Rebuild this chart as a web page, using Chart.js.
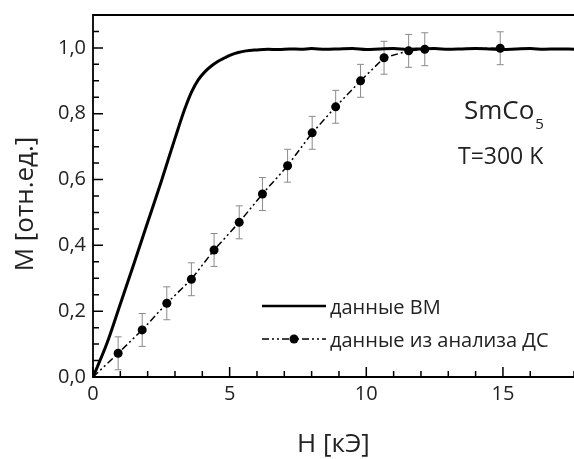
<!DOCTYPE html>
<html>
<head>
<meta charset="utf-8">
<script src="https://cdn.jsdelivr.net/npm/chart.js@4.4.1/dist/chart.umd.min.js"></script>
<style>
  html, body { margin: 0; padding: 0; background: #fff; }
  #wrap { width: 574px; height: 459px; position: relative; }
</style>
</head>
<body>
<div id="wrap"><canvas id="myChart"></canvas></div>
<script>
// VM data (solid curve)
const fieldVM = [0, 0.5, 1.0, 1.5, 2.0, 2.5, 3.0, 3.36, 3.6, 3.85, 4.1, 4.33, 4.55, 4.82, 5.05, 5.31, 5.6, 6.0, 6.4, 6.8, 7.2, 7.6, 8.0, 8.5, 9.0, 9.5, 10.0, 10.5, 11.0, 11.5, 12.0, 12.5, 13.0, 13.5, 14.0, 14.5, 15.0, 15.5, 16.0, 16.5, 17.0, 17.6];
const magVM = [0, 0.1, 0.222, 0.345, 0.47, 0.595, 0.725, 0.815, 0.865, 0.903, 0.928, 0.945, 0.958, 0.97, 0.979, 0.986, 0.991, 0.994, 0.996, 0.995, 0.997, 0.996, 0.998, 0.996, 0.997, 0.998, 0.995, 0.997, 0.998, 0.996, 0.997, 0.998, 0.996, 0.997, 0.998, 0.997, 0.995, 0.997, 0.998, 0.996, 0.997, 0.996];

// DS analysis data (points with error bars)
const fieldDS = [0, 0.92, 1.8, 2.7, 3.6, 4.43, 5.35, 6.2, 7.12, 8.02, 8.88, 9.79, 10.65, 11.55, 12.14, 14.9];
const magDS = [0, 0.072, 0.143, 0.224, 0.297, 0.386, 0.47, 0.556, 0.642, 0.742, 0.821, 0.90, 0.97, 0.991, 0.996, 0.999];
const errDS = [null, 0.05, 0.05, 0.05, 0.05, 0.05, 0.05, 0.05, 0.05, 0.05, 0.05, 0.05, 0.05, 0.05, 0.05, 0.05];

// axis ticks
const xMajorTicks = [0, 5, 10, 15];
const yMajorTicks = [0, 0.2, 0.4, 0.6, 0.8, 1.0];

const FONT = '"Open Sans", "DejaVu Sans", sans-serif';

function isMajor(list, v) {
    return list.some(t => Math.abs(t - v) < 1e-6);
}

// error bars, frame, inward ticks, titles, legend, labels
const decorPlugin = {
    id: 'decor',
    beforeDatasetsDraw(chart) {
        const ctx = chart.ctx;
        const xs = chart.scales.x, ys = chart.scales.y;
        ctx.save();
        ctx.strokeStyle = '#8a8a8a';
        ctx.lineWidth = 1;
        fieldDS.forEach((h, i) => {
            if (errDS[i] == null) return;
            const px = xs.getPixelForValue(h);
            const y1 = ys.getPixelForValue(magDS[i] + errDS[i]);
            const y2 = ys.getPixelForValue(magDS[i] - errDS[i]);
            ctx.beginPath();
            ctx.moveTo(px, y1); ctx.lineTo(px, y2);
            ctx.moveTo(px - 3.5, y1); ctx.lineTo(px + 3.5, y1);
            ctx.moveTo(px - 3.5, y2); ctx.lineTo(px + 3.5, y2);
            ctx.stroke();
        });
        ctx.restore();
    },
    afterDraw(chart) {
        const ctx = chart.ctx;
        const a = chart.chartArea;
        const xs = chart.scales.x, ys = chart.scales.y;
        ctx.save();
        // frame
        ctx.strokeStyle = '#000';
        ctx.lineWidth = 1.8;
        ctx.beginPath();
        ctx.moveTo(a.right, a.top); ctx.lineTo(a.left, a.top);
        ctx.lineTo(a.left, a.bottom); ctx.lineTo(a.right, a.bottom);
        ctx.stroke();
        // inward ticks
        ctx.lineWidth = 1.5;
        ctx.beginPath();
        xs.ticks.forEach((t, i) => {
            const px = xs.getPixelForTick(i);
            const len = isMajor(xMajorTicks, t.value) ? 10 : 6;
            ctx.moveTo(px, a.bottom); ctx.lineTo(px, a.bottom - len);
        });
        ys.ticks.forEach((t, i) => {
            const py = ys.getPixelForTick(i);
            const len = isMajor(yMajorTicks, t.value) ? 10 : 6;
            ctx.moveTo(a.left, py); ctx.lineTo(a.left + len, py);
        });
        ctx.stroke();

        ctx.fillStyle = '#222';
        // axis titles
        ctx.font = '26px ' + FONT;
        ctx.textAlign = 'center';
        ctx.textBaseline = 'middle';
        ctx.fillText('H [кЭ]', (a.left + a.right) / 2, 445);
        ctx.save();
        ctx.translate(26, 204);
        ctx.rotate(-Math.PI / 2);
        ctx.fillText('M [отн.ед.]', 0, 0);
        ctx.restore();

        // sample labels
        ctx.textAlign = 'left';
        ctx.textBaseline = 'alphabetic';
        ctx.font = '26px ' + FONT;
        ctx.fillText('SmCo', 464, 119);
        const w = ctx.measureText('SmCo').width;
        ctx.font = '15px ' + FONT;
        ctx.fillText('5', 464 + w + 1, 129);
        ctx.font = '23px ' + FONT;
        ctx.fillText('T=300 K', 458, 164);

        // legend
        ctx.strokeStyle = '#000';
        ctx.lineWidth = 2.5;
        ctx.beginPath();
        ctx.moveTo(262, 306); ctx.lineTo(326, 306);
        ctx.stroke();
        ctx.lineWidth = 1.5;
        ctx.setLineDash([7, 3, 2, 3, 2, 3]);
        ctx.beginPath();
        ctx.moveTo(262, 339); ctx.lineTo(326, 339);
        ctx.stroke();
        ctx.setLineDash([]);
        ctx.fillStyle = '#000';
        ctx.beginPath();
        ctx.arc(294, 339, 4.5, 0, Math.PI * 2);
        ctx.fill();
        ctx.fillStyle = '#222';
        ctx.font = '20px ' + FONT;
        ctx.textBaseline = 'middle';
        ctx.fillText('данные ВМ', 330, 308);
        ctx.fillText('данные из анализа ДС', 330, 341);
        ctx.restore();
    }
};

var ctx = document.getElementById('myChart').getContext('2d');
var myChart = new Chart(ctx, {
    type: 'scatter',
    data: {
        datasets: [{
            label: 'данные ВМ',
            data: fieldVM.map((h, i) => ({ x: h, y: magVM[i] })),
            showLine: true,
            borderColor: '#000',
            borderWidth: 3,
            pointRadius: 0,
            cubicInterpolationMode: 'monotone',
            order: 2
        }, {
            label: 'данные из анализа ДС',
            data: fieldDS.map((h, i) => ({ x: h, y: magDS[i] })),
            showLine: true,
            borderColor: '#000',
            borderWidth: 1.5,
            borderDash: [7, 3, 2, 3, 2, 3],
            backgroundColor: '#000',
            pointBackgroundColor: '#000',
            pointBorderWidth: 0,
            pointRadius: fieldDS.map((h, i) => i === 0 ? 0 : 4.5),
            order: 1
        }]
    },
    options: {
        responsive: true,
        maintainAspectRatio: false,
        animation: false,
        layout: { autoPadding: false, padding: { top: 15, right: 0, left: 0, bottom: 0 } },
        plugins: {
            legend: { display: false },
            tooltip: { enabled: false }
        },
        scales: {
            x: {
                type: 'linear',
                min: 0,
                max: 17.6,
                afterFit(scale) {
                    scale.height = 82;
                    scale.paddingLeft = 0;
                    scale.paddingRight = 0;
                },
                grid: { display: false, drawTicks: false },
                border: { display: false },
                ticks: {
                    stepSize: 1,
                    autoSkip: false,
                    maxRotation: 0,
                    padding: 5,
                    color: '#222',
                    font: { family: FONT, size: 20 },
                    callback: v => isMajor(xMajorTicks, v) ? String(v) : ''
                }
            },
            y: {
                type: 'linear',
                min: 0,
                max: 1.1,
                afterFit(scale) {
                    scale.width = 93;
                    scale.paddingTop = 0;
                    scale.paddingBottom = 0;
                },
                grid: { display: false, drawTicks: false },
                border: { display: false },
                ticks: {
                    stepSize: 0.05,
                    autoSkip: false,
                    padding: 7,
                    color: '#222',
                    font: { family: FONT, size: 20 },
                    callback: v => isMajor(yMajorTicks, v) ? v.toFixed(1).replace('.', ',') : ''
                }
            }
        }
    },
    plugins: [decorPlugin]
});
</script>
</body>
</html>
